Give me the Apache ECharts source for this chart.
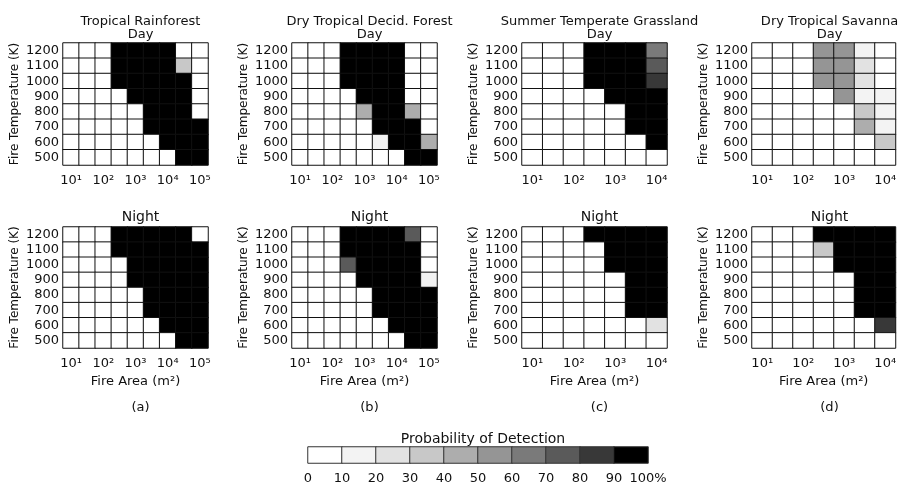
<!DOCTYPE html>
<html>
<head>
<meta charset="utf-8">
<script src="https://cdn.jsdelivr.net/npm/echarts@6/dist/echarts.min.js"></script>
<style>
  html, body { margin: 0; background: #fff; }
  #chart { width: 899px; height: 486px; }
</style>
</head>
<body>
<div id="chart"></div>
<script>
// fire temperature rows, bottom to top
const temps = ['500', '600', '700', '800', '900', '1000', '1100', '1200']
// log10 of fire area, half-decade steps
const areaWide = ['1', '1.5', '2', '2.5', '3', '3.5', '4', '4.5', '5']
const areaNarrow = ['1', '1.5', '2', '2.5', '3', '3.5', '4']
const areaTickLabels = { '1': '10¹', '2': '10²', '3': '10³', '4': '10⁴', '5': '10⁵' }

const biomes = ['Tropical Rainforest', 'Dry Tropical Decid. Forest', 'Summer Temperate Grassland', 'Dry Tropical Savanna']
const panelTags = ['(a)', '(b)', '(c)', '(d)']

const legendBins = [5, 15, 25, 35, 45, 55, 65, 75, 85, 95]
const legendTicks = [0, 10, 20, 30, 40, 50, 60, 70, 80, 90, 100]
const binColors = ['#ffffff', '#f3f3f3', '#e2e2e2', '#c8c8c8', '#adadad', '#959595', '#7a7a7a', '#5a5a5a', '#383838', '#000000']

// probability of detection (%), rows listed top (1200 K) to bottom (500 K)
const rainforestDay = [
  [0, 0, 0, 100, 100, 100, 100, 0, 0],
  [0, 0, 0, 100, 100, 100, 100, 35, 0],
  [0, 0, 0, 100, 100, 100, 100, 100, 0],
  [0, 0, 0, 0, 100, 100, 100, 100, 0],
  [0, 0, 0, 0, 0, 100, 100, 100, 0],
  [0, 0, 0, 0, 0, 100, 100, 100, 100],
  [0, 0, 0, 0, 0, 0, 100, 100, 100],
  [0, 0, 0, 0, 0, 0, 0, 100, 100]
]
const rainforestNight = [
  [0, 0, 0, 100, 100, 100, 100, 100, 0],
  [0, 0, 0, 100, 100, 100, 100, 100, 100],
  [0, 0, 0, 0, 100, 100, 100, 100, 100],
  [0, 0, 0, 0, 100, 100, 100, 100, 100],
  [0, 0, 0, 0, 0, 100, 100, 100, 100],
  [0, 0, 0, 0, 0, 100, 100, 100, 100],
  [0, 0, 0, 0, 0, 0, 100, 100, 100],
  [0, 0, 0, 0, 0, 0, 0, 100, 100]
]
const deciduousDay = [
  [0, 0, 0, 100, 100, 100, 100, 0, 0],
  [0, 0, 0, 100, 100, 100, 100, 0, 0],
  [0, 0, 0, 100, 100, 100, 100, 0, 0],
  [0, 0, 0, 0, 100, 100, 100, 0, 0],
  [0, 0, 0, 0, 45, 100, 100, 45, 0],
  [0, 0, 0, 0, 0, 100, 100, 100, 0],
  [0, 0, 0, 0, 0, 15, 100, 100, 45],
  [0, 0, 0, 0, 0, 0, 0, 100, 100]
]
const deciduousNight = [
  [0, 0, 0, 100, 100, 100, 100, 75, 0],
  [0, 0, 0, 100, 100, 100, 100, 100, 0],
  [0, 0, 0, 72, 100, 100, 100, 100, 0],
  [0, 0, 0, 0, 100, 100, 100, 100, 15],
  [0, 0, 0, 0, 0, 100, 100, 100, 100],
  [0, 0, 0, 0, 0, 100, 100, 100, 100],
  [0, 0, 0, 0, 0, 0, 100, 100, 100],
  [0, 0, 0, 0, 0, 0, 0, 100, 100]
]
const grasslandDay = [
  [0, 0, 0, 100, 100, 100, 65],
  [0, 0, 0, 100, 100, 100, 72],
  [0, 0, 0, 100, 100, 100, 85],
  [0, 0, 0, 0, 100, 100, 100],
  [0, 0, 0, 0, 0, 100, 100],
  [0, 0, 0, 0, 0, 100, 100],
  [0, 0, 0, 0, 0, 0, 100],
  [0, 0, 0, 0, 0, 0, 0]
]
const grasslandNight = [
  [0, 0, 0, 100, 100, 100, 100],
  [0, 0, 0, 0, 100, 100, 100],
  [0, 0, 0, 0, 100, 100, 100],
  [0, 0, 0, 0, 0, 100, 100],
  [0, 0, 0, 0, 0, 100, 100],
  [0, 0, 0, 0, 0, 100, 100],
  [0, 0, 0, 0, 0, 0, 25],
  [0, 0, 0, 0, 0, 0, 0]
]
const savannaDay = [
  [0, 0, 0, 55, 55, 15, 0],
  [0, 0, 0, 55, 55, 22, 0],
  [0, 0, 0, 55, 55, 22, 0],
  [0, 0, 0, 0, 55, 15, 12],
  [0, 0, 0, 0, 0, 35, 12],
  [0, 0, 0, 0, 0, 45, 12],
  [0, 0, 0, 0, 0, 0, 35],
  [0, 0, 0, 0, 0, 0, 0]
]
const savannaNight = [
  [0, 0, 0, 100, 100, 100, 100],
  [0, 0, 0, 35, 100, 100, 100],
  [0, 0, 0, 0, 100, 100, 100],
  [0, 0, 0, 0, 0, 100, 100],
  [0, 0, 0, 0, 0, 100, 100],
  [0, 0, 0, 0, 0, 100, 100],
  [0, 0, 0, 0, 0, 0, 85],
  [0, 0, 0, 0, 0, 0, 0]
]

const dayPanels = [rainforestDay, deciduousDay, grasslandDay, savannaDay]
const nightPanels = [rainforestNight, deciduousNight, grasslandNight, savannaNight]
const panelAreas = [areaWide, areaWide, areaNarrow, areaNarrow]

const font = 'DejaVu Sans'
const gridLefts = [63, 292, 522, 752]
const gridWidth = 145

function toCells(rows) {
  const cells = []
  rows.forEach((row, r) => {
    row.forEach((v, c) => cells.push([c, rows.length - 1 - r, v]))
  })
  return cells
}

const grids = [], xAxes = [], yAxes = [], series = [], titles = []

function addPanel(col, isNight) {
  const idx = grids.length
  grids.push({
    left: gridLefts[col], width: gridWidth,
    top: isNight ? 227 : 43, height: isNight ? 121 : 122
  })
  xAxes.push({
    type: 'category', gridIndex: idx, data: panelAreas[col],
    axisLine: { show: false }, axisTick: { show: false }, splitLine: { show: false },
    axisLabel: {
      interval: 0, margin: 9, color: '#111', fontFamily: font, fontSize: 13,
      formatter: v => areaTickLabels[v] || ''
    },
    name: isNight ? 'Fire Area (m²)' : '',
    nameLocation: 'middle', nameGap: 27,
    nameTextStyle: { color: '#111', fontFamily: font, fontSize: 13 }
  })
  yAxes.push({
    type: 'category', gridIndex: idx, data: temps,
    axisLine: { show: false }, axisTick: { show: false }, splitLine: { show: false },
    axisLabel: { interval: 0, margin: 4, color: '#111', fontFamily: font, fontSize: 13 },
    name: 'Fire Temperature (K)', nameLocation: 'middle', nameGap: 42,
    nameTextStyle: { color: '#111', fontFamily: font, fontSize: 12 }
  })
  series.push({
    type: 'heatmap', xAxisIndex: idx, yAxisIndex: idx,
    data: toCells(isNight ? nightPanels[col] : dayPanels[col]),
    itemStyle: { borderColor: '#111', borderWidth: 1 },
    emphasis: { disabled: true }
  })
}

for (let c = 0; c < 4; c++) {
  addPanel(c, false)
  addPanel(c, true)
  const cx = gridLefts[c] + gridWidth / 2
  titles.push({
    text: biomes[c] + '\nDay', left: cx, top: 10, textAlign: 'center',
    textStyle: { fontFamily: font, fontSize: 13, fontWeight: 'normal', color: '#111', lineHeight: 13 }
  })
  titles.push({
    text: 'Night', left: cx, top: 205, textAlign: 'center',
    textStyle: { fontFamily: font, fontSize: 14, fontWeight: 'normal', color: '#111' }
  })
  titles.push({
    text: panelTags[c], left: cx, top: 396, textAlign: 'center',
    textStyle: { fontFamily: font, fontSize: 13, fontWeight: 'normal', color: '#111' }
  })
}

// colour key
const keyIdx = grids.length
grids.push({ left: 308, width: 340, top: 447, height: 16 })
xAxes.push({
  type: 'category', gridIndex: keyIdx, data: legendBins.map(String),
  axisLine: { show: false }, axisTick: { show: false }, axisLabel: { show: false }
})
xAxes.push({
  type: 'value', gridIndex: keyIdx, min: legendTicks[0], max: legendTicks[legendTicks.length - 1],
  interval: 10, position: 'bottom',
  axisLine: { show: false }, axisTick: { show: false }, splitLine: { show: false },
  axisLabel: {
    margin: 9, color: '#111', fontFamily: font, fontSize: 13,
    formatter: v => (v === 100 ? '100%' : String(v))
  }
})
yAxes.push({ type: 'category', gridIndex: keyIdx, data: ['p'], show: false })
series.push({
  type: 'heatmap', xAxisIndex: keyIdx, yAxisIndex: keyIdx,
  data: legendBins.map((v, i) => [i, 0, v]),
  itemStyle: { borderColor: '#333', borderWidth: 1 },
  emphasis: { disabled: true }
})
titles.push({
  text: 'Probability of Detection', left: 478, top: 427, textAlign: 'center',
  textStyle: { fontFamily: font, fontSize: 14, fontWeight: 'normal', color: '#111' }
})

const pieces = binColors.map((color, i) =>
  i === 9 ? { gte: 90, lte: 100, color } : { gte: i * 10, lt: i * 10 + 10, color })

const chart = echarts.init(document.getElementById('chart'))
chart.setOption({
  animation: false,
  backgroundColor: '#fff',
  title: titles,
  grid: grids,
  xAxis: xAxes,
  yAxis: yAxes,
  visualMap: { type: 'piecewise', show: false, pieces, seriesIndex: series.map((s, i) => i) },
  series
})
</script>
</body>
</html>
